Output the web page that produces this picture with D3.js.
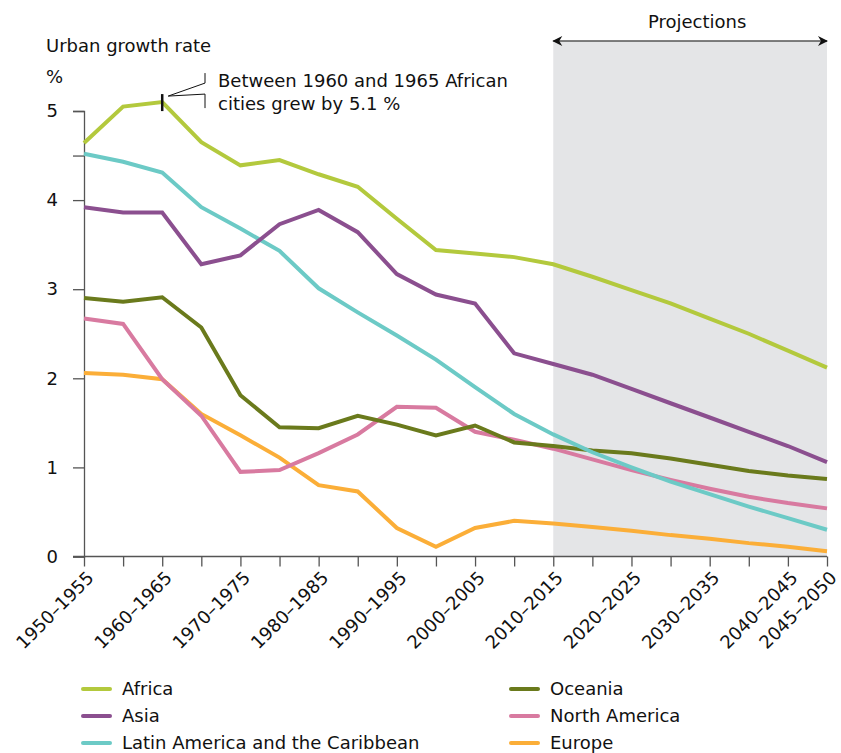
<!DOCTYPE html>
<html>
<head>
<meta charset="utf-8">
<script src="https://cdn.jsdelivr.net/npm/d3@7"></script>
<style>
  body { margin: 0; background: #fff; }
  text { font-family: "DejaVu Sans", Verdana, sans-serif; fill: #111; }
</style>
</head>
<body>
<div id="viz"></div>
<script>
const periods = ["1950–1955","1955–1960","1960–1965","1965–1970","1970–1975","1975–1980",
  "1980–1985","1985–1990","1990–1995","1995–2000","2000–2005","2005–2010","2010–2015",
  "2015–2020","2020–2025","2025–2030","2030–2035","2035–2040","2040–2045","2045–2050"];
const tickLabels = ["1950–1955","1960–1965","1970–1975","1980–1985","1990–1995","2000–2005",
  "2010–2015","2020–2025","2030–2035","2040–2045","2045–2050"];
const yTicks = [0, 1, 2, 3, 4, 4.5, 5];

const africa   = [4.64,5.05,5.10,4.65,4.39,4.45,4.29,4.15,3.79,3.44,3.40,3.36,3.28,3.14,2.99,2.84,2.67,2.50,2.31,2.12];
const asia     = [3.92,3.86,3.86,3.28,3.38,3.73,3.89,3.64,3.17,2.94,2.84,2.28,2.16,2.04,1.88,1.72,1.56,1.40,1.24,1.06];
const latin    = [4.52,4.43,4.31,3.92,3.68,3.43,3.01,2.74,2.48,2.21,1.90,1.60,1.37,1.17,1.00,0.84,0.70,0.56,0.43,0.30];
const oceania  = [2.90,2.86,2.91,2.57,1.81,1.45,1.44,1.58,1.48,1.36,1.47,1.28,1.24,1.19,1.16,1.10,1.03,0.96,0.91,0.87];
const northAm  = [2.67,2.61,1.99,1.58,0.95,0.97,1.16,1.37,1.68,1.67,1.40,1.31,1.21,1.09,0.97,0.86,0.76,0.67,0.60,0.54];
const europe   = [2.06,2.04,1.99,1.60,1.36,1.11,0.80,0.73,0.32,0.11,0.32,0.40,0.37,0.33,0.29,0.24,0.20,0.15,0.11,0.06];

const series = [
  {name: "Africa", values: africa, color: "#b3c93d"},
  {name: "Asia", values: asia, color: "#8b4f8f"},
  {name: "Latin America and the Caribbean", values: latin, color: "#6ccac6"},
  {name: "Oceania", values: oceania, color: "#6a7a1c"},
  {name: "North America", values: northAm, color: "#d87aa0"},
  {name: "Europe", values: europe, color: "#fbae38"}
];
// draw order: back-most first
const drawOrder = ["Europe", "North America", "Oceania", "Latin America and the Caribbean", "Asia", "Africa"];

const width = 841, height = 753;
const margin = {left: 84, right: 14, top: 111, bottom: 197};

const svg = d3.select("#viz").append("svg")
    .attr("width", width)
    .attr("height", height);

const x = d3.scalePoint()
    .domain(periods)
    .range([margin.left, width - margin.right]);

const y = d3.scaleLinear()
    .domain([0, 5])
    .range([height - margin.bottom + 0.5, margin.top]);

// projections band
svg.append("rect")
    .attr("x", x("2010–2015"))
    .attr("y", 41)
    .attr("width", x("2045–2050") - x("2010–2015"))
    .attr("height", y(0) - 41)
    .attr("fill", "#e4e5e7");

const defs = svg.append("defs");
defs.append("marker")
    .attr("id", "arr")
    .attr("viewBox", "0 0 10 10")
    .attr("refX", 9).attr("refY", 5)
    .attr("markerWidth", 14).attr("markerHeight", 10)
    .attr("markerUnits", "userSpaceOnUse")
    .attr("orient", "auto-start-reverse")
    .append("path")
      .attr("d", "M0,0 L10,5 L0,10 L3,5 z")
      .attr("fill", "#111");

svg.append("line")
    .attr("x1", x("2010–2015")).attr("x2", x("2045–2050"))
    .attr("y1", 41).attr("y2", 41)
    .attr("stroke", "#555").attr("stroke-width", 1.5)
    .attr("marker-start", "url(#arr)")
    .attr("marker-end", "url(#arr)");

svg.append("text")
    .attr("x", (x("2010–2015") + x("2045–2050")) / 2)
    .attr("dx", 7)
    .attr("y", 28)
    .attr("text-anchor", "middle")
    .attr("font-size", 18)
    .text("Projections");

// axes
const yAxis = d3.axisLeft(y)
    .tickValues(yTicks)
    .tickFormat(d => Number.isInteger(d) ? d : "")
    .tickSize(11)
    .tickPadding(15);

const gy = svg.append("g")
    .attr("transform", `translate(${margin.left},0)`)
    .call(yAxis);
gy.select(".domain").attr("stroke", "#555").attr("stroke-width", 1.3);
gy.selectAll(".tick line").attr("stroke", "#555").attr("stroke-width", 1.3);
gy.selectAll(".tick text").attr("font-size", 18).attr("font-family", "DejaVu Sans").attr("fill", "#111");

const xAxis = d3.axisBottom(x)
    .tickSize(10)
    .tickSizeOuter(0)
    .tickFormat(d => tickLabels.includes(d) ? d : "");

const gx = svg.append("g")
    .attr("transform", `translate(0,${y(0)})`)
    .call(xAxis);
gx.select(".domain").attr("stroke", "#555").attr("stroke-width", 1.3).attr("d", `M${margin.left - 11},0H${x("2045–2050")}`);
gx.selectAll(".tick line").attr("stroke", "#555").attr("stroke-width", 1.3);
gx.selectAll(".tick text")
    .attr("font-size", 18)
    .attr("font-family", "DejaVu Sans")
    .attr("fill", "#111")
    .attr("text-anchor", "end")
    .attr("transform", "translate(6,18) rotate(-45)")
    .attr("x", 0).attr("y", 0)
    .attr("dy", "0.35em");

// lines
const line = d3.line()
    .x((d, i) => x(periods[i]))
    .y(d => y(d));

svg.append("g").selectAll("path")
    .data(drawOrder.map(n => series.find(s => s.name === n)))
    .join("path")
      .attr("d", d => line(d.values))
      .attr("fill", "none")
      .attr("stroke", d => d.color)
      .attr("stroke-width", 4)
      .attr("stroke-linejoin", "miter");

// axis title
svg.append("text").attr("x", 46).attr("y", 52).attr("font-size", 18).text("Urban growth rate");
svg.append("text").attr("x", 46).attr("y", 83).attr("font-size", 18).text("%");

// annotation for Africa 1960-1965
const ax = x("1960–1965"), ay = y(africa[2]);
svg.append("line")
    .attr("x1", ax).attr("x2", ax)
    .attr("y1", ay - 8).attr("y2", ay + 9)
    .attr("stroke", "#111").attr("stroke-width", 2.5);
svg.append("path")
    .attr("d", `M${ax + 6},${ay - 6} L205,${ay - 19} V${ay - 29} M${ax + 6},${ay - 6} L205,${ay - 8} V${ay + 6}`)
    .attr("fill", "none")
    .attr("stroke", "#111")
    .attr("stroke-width", 1);
svg.append("text").attr("x", 218).attr("y", 87).attr("font-size", 18).text("Between 1960 and 1965 African");
svg.append("text").attr("x", 218).attr("y", 110).attr("font-size", 18).text("cities grew by 5.1 %");

// legend
const legend = svg.append("g");
const leg = legend.selectAll("g")
    .data(series)
    .join("g")
      .attr("transform", (d, i) => `translate(${i < 3 ? 83 : 511},${689 + (i % 3) * 27})`);
leg.append("line")
    .attr("x1", 0).attr("x2", 27)
    .attr("stroke", d => d.color)
    .attr("stroke-width", 4)
    .attr("stroke-linecap", "round");
leg.append("text")
    .attr("x", 39)
    .attr("dy", "0.35em")
    .attr("font-size", 18)
    .text(d => d.name);
</script>
</body>
</html>
